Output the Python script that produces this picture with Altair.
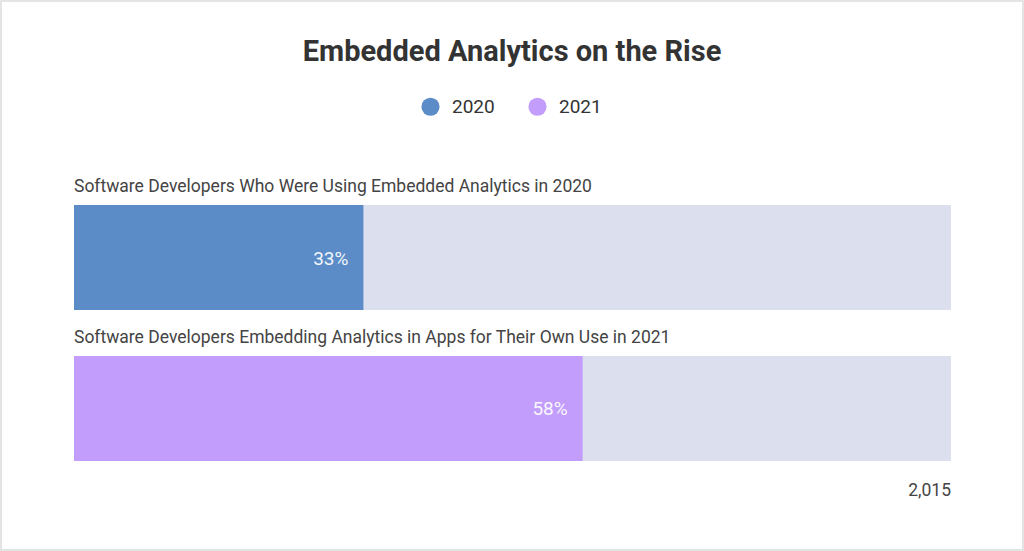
import altair as alt
import pandas as pd

title_text = "Embedded Analytics on the Rise"
categories = [
    "Software Developers Who Were Using Embedded Analytics in 2020",
    "Software Developers Embedding Analytics in Apps for Their Own Use in 2021",
]
years = ["2020", "2021"]
values = [33, 58]
pct_labels = ["33%", "58%"]
total_label = "2,015"
colors = ["#5b8cc8", "#c39dfc"]

df = pd.DataFrame({
    "category": categories,
    "year": years,
    "value": values,
    "label": pct_labels,
    "zero": [0, 0],
    "full": [100, 100],
})
total_df = pd.DataFrame({"category": [categories[-1]], "full": [100], "t": [total_label]})
title_df = pd.DataFrame({"t": [title_text]})

FONT = "Roboto"
x_scale = alt.Scale(domain=[0, 100], range=[73, 950], nice=False, zero=False)
y_scale = alt.Scale(domain=categories, range=[204, 460], paddingInner=0.3046, paddingOuter=0)

base = alt.Chart(df)

bg = base.mark_bar(color="#dcdfee").encode(
    x=alt.X("zero:Q", scale=x_scale, axis=None),
    x2="full:Q",
    y=alt.Y("category:N", scale=y_scale, axis=None, sort=categories),
)

fg = base.mark_bar().encode(
    x=alt.X("zero:Q", scale=x_scale, axis=None),
    x2="value:Q",
    y=alt.Y("category:N", scale=y_scale, axis=None, sort=categories),
    color=alt.Color(
        "year:N",
        scale=alt.Scale(domain=years, range=colors),
        legend=alt.Legend(
            title=None,
            orient="none",
            legendX=420,
            legendY=96,
            direction="horizontal",
            symbolType="circle",
            symbolSize=330,
            symbolStrokeWidth=0,
            symbolOpacity=1,
            labelFont=FONT,
            labelFontSize=19,
            labelColor="#333333",
            labelOffset=12,
            columnPadding=33,
            padding=0,
        ),
    ),
)

cat_text = base.mark_text(
    align="left", baseline="alphabetic", dy=-13, font=FONT, fontSize=17.5, color="#444444"
).encode(
    x=alt.X("zero:Q", scale=x_scale, axis=None),
    y=alt.Y("category:N", scale=y_scale, axis=None, sort=categories, bandPosition=0),
    text="category:N",
)

pct_text = base.mark_text(
    align="right", baseline="middle", dx=-15, dy=1, font=FONT, fontSize=19, color="#ffffff", opacity=0.92
).encode(
    x=alt.X("value:Q", scale=x_scale, axis=None),
    y=alt.Y("category:N", scale=y_scale, axis=None, sort=categories, bandPosition=0.5),
    text="label:N",
)

total_text = alt.Chart(total_df).mark_text(
    align="right", baseline="middle", dy=30, font=FONT, fontSize=17.5, color="#444444"
).encode(
    x=alt.X("full:Q", scale=x_scale, axis=None),
    y=alt.Y("category:N", scale=y_scale, axis=None, sort=categories, bandPosition=1),
    text="t:N",
)

title = alt.Chart(title_df).mark_text(
    align="center", baseline="middle", font=FONT, fontSize=29, fontWeight="bold", color="#333333"
).encode(
    x=alt.value(511),
    y=alt.value(51),
    text="t:N",
)

chart = alt.layer(bg, fg, cat_text, pct_text, total_text, title).properties(
    width=1022,
    height=549,
    padding={"left": 1, "top": 1, "right": 1, "bottom": 1},
    autosize=alt.AutoSizeParams(type="none"),
    background="#ffffff",
).configure_view(stroke="#e4e4e4", strokeWidth=2)

chart.save("out.html", embed_options={"renderer": "svg", "actions": False})
